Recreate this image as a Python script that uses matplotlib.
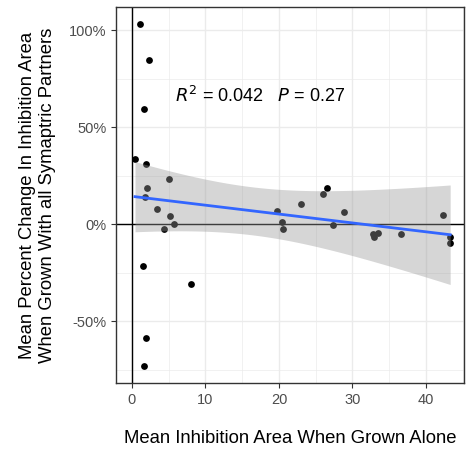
import numpy as np
import matplotlib
matplotlib.use("Agg")
import matplotlib.pyplot as plt
from matplotlib.ticker import MultipleLocator, FuncFormatter

plt.rcParams['font.family'] = ['Liberation Sans', 'DejaVu Sans']

# mean inhibition area alone (x) vs mean % change with sympatric partners (y)
area_alone = [1.13, 2.26, 1.58, 0.41, 1.86, 2.04, 4.98, 1.76, 3.39, 5.11, 5.70, 4.39,
              1.53, 8.05, 1.94, 1.58,
              19.77, 20.4, 20.5, 23.0, 25.96, 26.55, 27.3, 28.86, 32.8, 32.9, 33.5,
              36.6, 42.3, 43.3, 43.3]
pct_change = [102.9, 84.5, 59.1, 33.7, 30.8, 18.7, 23.2, 14.1, 7.6, 4.0, -0.2, -2.7,
              -21.6, -31.1, -58.9, -73.4,
              6.9, 1.0, -2.7, 10.1, 15.5, 18.6, -0.5, 6.0, -5.2, -6.5, -4.5,
              -5.0, 4.6, -6.9, -9.6]
r2_text = "0.042"
p_text = "0.27"
T_CRIT = 2.045  # t(0.975, df=29)

x = np.array(area_alone)
y = np.array(pct_change)

# linear fit + 95% confidence band (like geom_smooth(method="lm"))
slope, intercept = np.polyfit(x, y, 1)
xs = np.linspace(x.min(), x.max(), 80)
fit = intercept + slope * xs
resid = y - (intercept + slope * x)
n = len(x)
s = np.sqrt(np.sum(resid ** 2) / (n - 2))
se = s * np.sqrt(1 / n + (xs - x.mean()) ** 2 / np.sum((x - x.mean()) ** 2))

fig = plt.figure(figsize=(4.66, 4.55), dpi=100)
ax = fig.add_axes([0.249, 0.158, 0.747, 0.827])

ax.scatter(x, y, s=24, color='black', linewidths=0, zorder=3)
ax.fill_between(xs, fit - T_CRIT * se, fit + T_CRIT * se, color='#999999',
                alpha=0.4, linewidth=0, zorder=4)
ax.plot(xs, fit, color='#3366FF', linewidth=2, zorder=5)
ax.axhline(0, color='black', linewidth=1, zorder=2)
ax.axvline(0, color='black', linewidth=1, zorder=2)

ax.text(5.9, 66, r"$R^2$ = " + r2_text + r"   $P$ = " + p_text, fontsize=13,
        va='center', ha='left', color='black', zorder=6)

ax.set_xlim(-2.17, 45.2)
ax.set_ylim(-82, 112)
ax.xaxis.set_major_locator(MultipleLocator(10))
ax.xaxis.set_minor_locator(MultipleLocator(5))
ax.yaxis.set_major_locator(MultipleLocator(50))
ax.yaxis.set_minor_locator(MultipleLocator(25))
ax.yaxis.set_major_formatter(FuncFormatter(lambda v, _: f"{v:.0f}%"))

ax.grid(True, which='major', color='#EBEBEB', linewidth=1)
ax.grid(True, which='minor', color='#EBEBEB', linewidth=0.5)
ax.set_axisbelow(True)
for sp in ax.spines.values():
    sp.set_color('#333333')
    sp.set_linewidth(1)
ax.tick_params(which='major', length=3.5, width=0.8, color='#333333',
               labelcolor='#4D4D4D', labelsize=10.5)
ax.tick_params(which='minor', length=0)

ax.set_xlabel("Mean Inhibition Area When Grown Alone", fontsize=13.3)
ax.set_ylabel("Mean Percent Change In Inhibition Area\nWhen Grown With all Symaptric Partners",
              fontsize=13.3)
ax.xaxis.set_label_coords(0.5, -0.125)
ax.yaxis.set_label_coords(-0.173, 0.5)

fig.savefig("out.png", dpi=100)
